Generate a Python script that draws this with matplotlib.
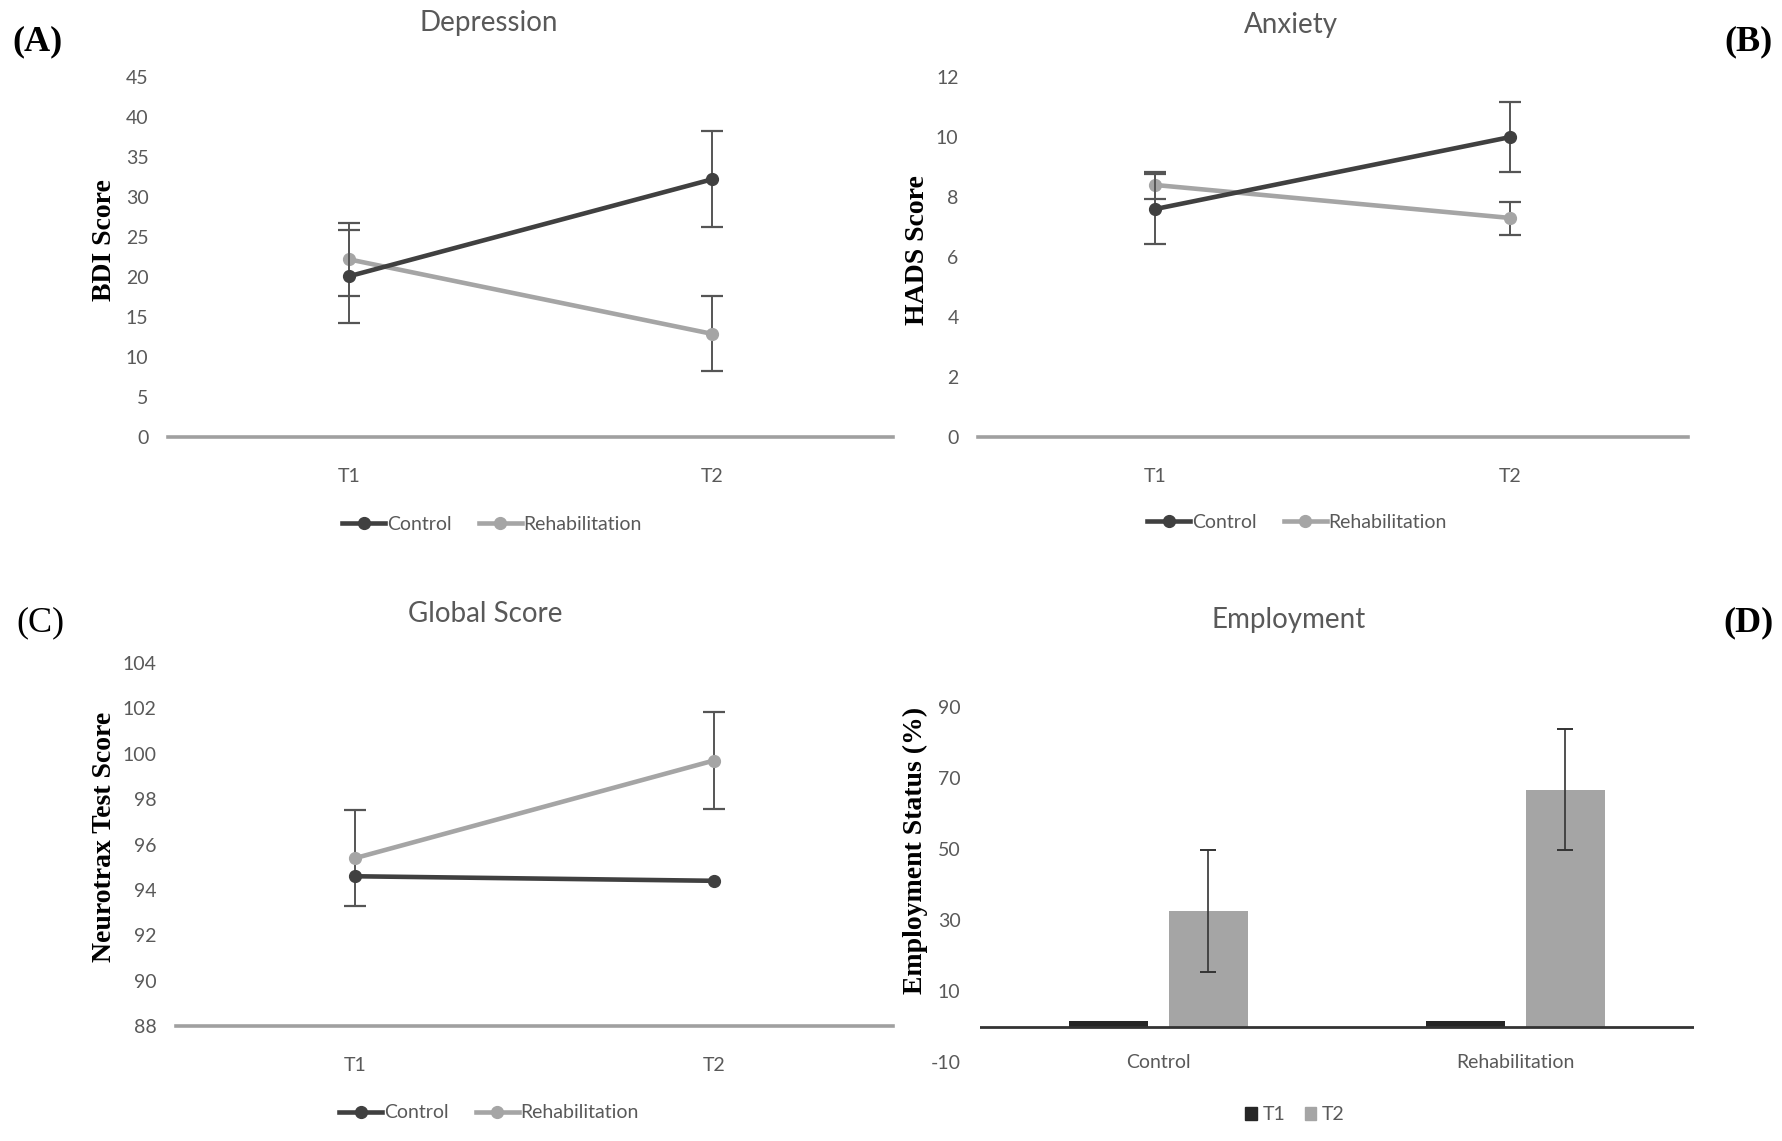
import matplotlib
matplotlib.use("Agg")
import matplotlib.pyplot as plt
from matplotlib.lines import Line2D
from matplotlib.patches import Patch

# ---- data ----
timepoints = ["T1", "T2"]
groups = ["Control", "Rehabilitation"]

bdi_control = [20.1, 32.2]
bdi_control_err = [5.8, 6.0]
bdi_rehab = [22.2, 12.9]
bdi_rehab_err = [4.6, 4.7]

hads_control = [7.6, 10.0]
hads_control_err = [1.17, 1.17]
hads_rehab = [8.4, 7.3]
hads_rehab_err = [0.45, 0.55]

neuro_control = [94.6, 94.4]
neuro_rehab = [95.4, 99.7]
neuro_rehab_err = [2.1, 2.15]

employ_t1 = [1.5, 1.5]
employ_t2 = [32.5, 66.7]
employ_t2_err = [17.2, 17.0]

DARK = "#404040"
LIGHT = "#a5a5a5"
TXT = "#595959"
ERR = "#555555"
SANS = ["Lato", "DejaVu Sans"]
SERIF = "Liberation Serif"
MS = 8.5

plt.rcParams["font.family"] = SANS
plt.rcParams["axes.unicode_minus"] = False

W, H = 1783, 1141
fig = plt.figure(figsize=(W / 100, H / 100), dpi=100)


def rect(x0, y_top, x1, y_bot):
    return [x0 / W, 1 - y_bot / H, (x1 - x0) / W, (y_bot - y_top) / H]


def style_axes(ax, axis_color, axis_lw):
    for s in ("top", "right", "left"):
        ax.spines[s].set_visible(False)
    ax.spines["bottom"].set_color(axis_color)
    ax.spines["bottom"].set_linewidth(axis_lw)
    ax.tick_params(axis="both", length=0, colors=TXT, labelsize=14)
    ax.tick_params(axis="y", pad=14)


def line_panel(ax, ylim, yticks, ctrl, ctrl_err, rehab, rehab_err):
    x = [0, 1]
    ax.errorbar(x, rehab, yerr=rehab_err, color=LIGHT, lw=3.3, marker="o",
                ms=MS, ecolor=ERR, elinewidth=1.4, capsize=8, capthick=1.6,
                label="Rehabilitation", zorder=3)
    if ctrl_err is not None:
        ax.errorbar(x, ctrl, yerr=ctrl_err, color=DARK, lw=3.3, marker="o",
                    ms=MS, ecolor=ERR, elinewidth=1.4, capsize=8, capthick=1.6,
                    label="Control", zorder=4)
    else:
        ax.plot(x, ctrl, color=DARK, lw=3.3, marker="o", ms=MS,
                label="Control", zorder=4)
    ax.set_xlim(-0.5, 1.5)
    ax.set_ylim(*ylim)
    ax.set_yticks(yticks)
    ax.set_xticks(x)
    ax.set_xticklabels(timepoints)
    style_axes(ax, "#a0a0a0", 2.6)
    ax.tick_params(axis="x", pad=22)


def line_legend(cx, cy):
    handles = [Line2D([], [], color=DARK, lw=3.3, marker="o", ms=MS),
               Line2D([], [], color=LIGHT, lw=3.3, marker="o", ms=MS)]
    fig.legend(handles, groups, loc="center", bbox_to_anchor=(cx / W, 1 - cy / H),
               ncol=2, frameon=False, fontsize=14, handlelength=2.2,
               handletextpad=0.1, columnspacing=1.4, labelcolor=TXT)


# (A) Depression
axA = fig.add_axes(rect(168, 77, 893, 437))
line_panel(axA, (0, 45), range(0, 50, 5), bdi_control, bdi_control_err,
           bdi_rehab, bdi_rehab_err)
line_legend(492, 524)

# (B) Anxiety
axB = fig.add_axes(rect(978, 77, 1688, 437))
line_panel(axB, (0, 12), range(0, 14, 2), hads_control, hads_control_err,
           hads_rehab, hads_rehab_err)
line_legend(1297, 522)

# (C) Global Score
axC = fig.add_axes(rect(176, 663, 893, 1026))
line_panel(axC, (88, 104), range(88, 106, 2), neuro_control, None,
           neuro_rehab, neuro_rehab_err)
line_legend(489, 1113)

# (D) Employment
axD = fig.add_axes(rect(980, 707, 1694, 1062))
cat = [0, 1]
off, bw = 0.14, 0.22
axD.bar([c - off for c in cat], employ_t1, width=bw, color="#262626", zorder=2)
axD.bar([c + off for c in cat], employ_t2, width=bw, color=LIGHT, zorder=2)
axD.errorbar([c + off for c in cat], employ_t2, yerr=employ_t2_err, fmt="none",
             ecolor="#333333", elinewidth=1.2, capsize=6, capthick=1.4, zorder=3)
axD.axhline(0, color="#333333", lw=2.0, zorder=4)
axD.set_xlim(-0.5, 1.5)
axD.set_ylim(-10, 90)
axD.set_yticks(range(-10, 100, 20))
axD.set_xticks(cat)
axD.set_xticklabels(groups)
style_axes(axD, "#333333", 0)
axD.spines["bottom"].set_visible(False)
axD.tick_params(axis="x", pad=0)
for lbl in axD.get_xticklabels():
    lbl.set_va("center")
fig.legend([Patch(color="#262626"), Patch(color=LIGHT)], timepoints, loc="center",
           bbox_to_anchor=(1295 / W, 1 - 1115 / H), ncol=2, frameon=False,
           fontsize=14, handlelength=0.6, handleheight=0.6, handletextpad=0.3,
           columnspacing=1.0, labelcolor=TXT)

# titles
for txt, x, y in [("Depression", 489, 23), ("Anxiety", 1291, 25),
                  ("Global Score", 485, 614), ("Employment", 1289, 620)]:
    fig.text(x / W, 1 - y / H, txt, ha="center", va="center", fontsize=20,
             color=TXT)

# y labels
for txt, x, y in [("BDI Score", 105, 240), ("HADS Score", 918, 250),
                  ("Neurotrax Test Score", 105, 837),
                  ("Employment Status (%)", 915, 850)]:
    fig.text(x / W, 1 - y / H, txt, ha="center", va="center", rotation=90,
             fontsize=20, fontweight="bold", family=SERIF, color="black")

# panel letters
for txt, x, y, wt in [("(A)", 38, 42, "bold"), ("(B)", 1749, 42, "bold"),
                      ("(C)", 40, 623, "normal"), ("(D)", 1749, 623, "bold")]:
    fig.text(x / W, 1 - y / H, txt, ha="center", va="center", fontsize=26,
             fontweight=wt, family=SERIF, color="black")

fig.savefig("out.png", dpi=100, facecolor="white")
